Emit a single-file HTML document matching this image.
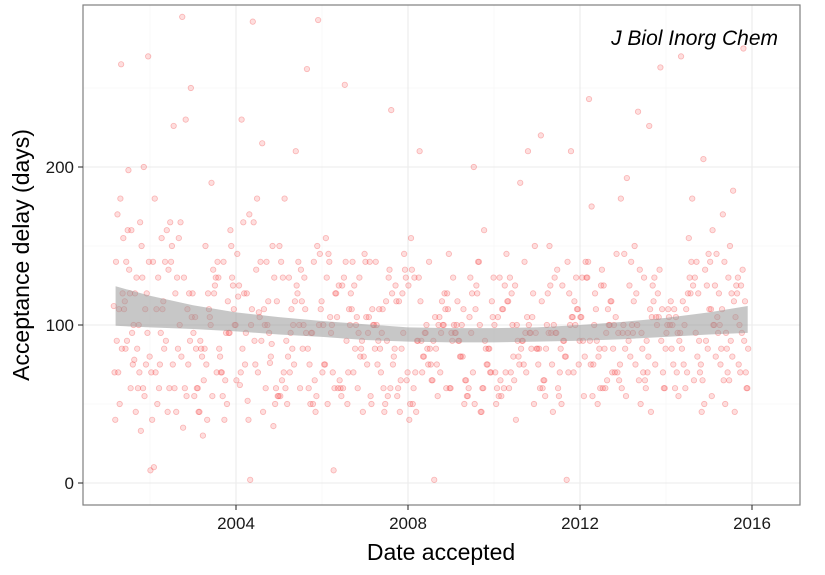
<!DOCTYPE html>
<html><head><meta charset="utf-8"><style>
body{margin:0;background:#fff;font-family:"Liberation Sans",sans-serif;}
svg text{font-family:"Liberation Sans",sans-serif;}
</style></head><body>
<svg id="chart" width="825" height="570">
<rect width="825" height="570" fill="#fff"/>
<g id="grid"></g>
<g id="points"></g>
<g id="band"></g>
<rect x="83" y="5" width="717" height="500" fill="none" stroke="#7f7f7f" stroke-width="1.2"/>
<g id="axes"></g>
<text x="778" y="45" text-anchor="end" font-size="21" font-style="italic" fill="#000">J Biol Inorg Chem</text>
<text x="441" y="560" text-anchor="middle" font-size="23" fill="#000">Date accepted</text>
<text transform="translate(29,255) rotate(-90)" text-anchor="middle" font-size="23" fill="#000">Acceptance delay (days)</text>
</svg>
<script>
const xTicks=[2004,2008,2012,2016];
const yTicks=[0,100,200];
const xMinor=[2002,2006,2010,2014];
const yMinor=[50,150,250];
const startYears=[2001.15,2002,2003,2004,2005,2006,2007,2008,2009,2010,2011,2012,2013,2014,2015];
const yearSpans=[0.85,1,1,1,1,1,1,1,1,1,1,1,1,1,0.92];
const delaysByYear=[
[112,33,160,85,140,70,120,180,95,60,198,110,75,130,90,170,55,120,85,140,60,100,110,70,150,95,120,80,165,60,265,270,100,135,50,120,85,160,70,110,45,140,90,200,78,115,40,130,75,155],
[8,295,140,75,105,165,60,130,90,155,45,110,75,130,90,180,55,120,85,140,60,226,110,70,35,150,95,120,80,165,60,250,100,135,50,120,85,160,70,110,45,140,10,230,60,115,40,130,75,155],
[95,65,120,30,100,140,55,85,125,70,100,45,150,80,110,60,95,130,40,85,115,70,150,55,95,125,65,100,40,135,80,110,55,190,90,130,70,105,45,160,85,120,60,95,140,75,105,50,130,85],
[65,115,180,95,55,140,75,120,60,100,165,85,130,45,110,70,150,90,2,125,80,105,40,145,95,70,120,55,100,135,75,115,60,90,165,50,110,292,230,36,215,100,62,88,140,170,118,76,108,52],
[150,95,60,130,110,75,140,50,100,85,125,60,150,95,115,70,45,130,100,65,140,85,110,55,95,135,70,115,50,100,80,145,60,120,90,293,262,210,180,55,110,75,130,65,100,85,140,50,115,95],
[70,125,60,100,80,140,55,105,90,120,65,145,80,110,60,130,95,50,120,75,105,140,60,100,85,130,70,145,70,125,95,45,110,60,140,85,100,125,50,130,70,105,155,60,90,120,75,100,252,8],
[140,55,115,85,65,125,45,100,135,80,110,50,95,120,70,140,85,60,110,95,45,130,75,105,60,90,140,70,115,50,100,130,85,60,110,145,75,95,55,120,236,85,105,65,135,90,75,115,55,100],
[125,70,140,90,60,100,85,45,110,75,95,130,60,105,80,50,120,90,70,155,100,65,115,40,95,85,130,60,105,75,90,145,55,100,70,120,85,95,60,110,2,80,135,100,65,90,50,115,75,210],
[95,60,120,80,105,45,130,90,70,100,60,115,85,140,55,95,75,125,65,100,85,50,110,90,160,70,100,130,60,95,80,115,45,105,90,70,140,55,100,85,120,65,95,75,110,50,130,90,200,80],
[100,70,125,60,95,140,80,110,50,90,120,65,105,85,130,55,95,75,115,60,100,90,145,70,105,40,125,85,95,65,110,150,75,100,55,120,90,70,130,85,190,60,105,95,80,115,50,210,100,70],
[85,120,60,100,75,140,95,55,110,80,130,65,100,90,45,115,70,125,95,60,105,85,150,75,100,55,120,90,70,135,85,110,2,95,65,130,80,100,60,115,90,75,220,105,50,125,85,210,70,95],
[105,70,125,90,60,115,85,140,75,100,50,130,95,65,110,80,145,60,100,90,70,125,55,105,85,135,75,95,115,60,243,180,100,80,130,65,110,90,140,70,95,120,55,105,85,75,130,100,60,175],
[100,75,130,95,60,115,85,140,70,105,50,125,90,110,65,95,135,80,100,55,120,90,75,145,105,65,115,85,130,70,100,60,125,95,80,110,45,135,90,263,226,235,193,105,70,120,85,100,60,150],
[95,120,70,105,85,140,60,110,90,130,75,100,50,125,85,115,65,140,95,105,75,130,55,100,90,120,70,145,80,110,60,125,95,100,75,135,65,115,85,205,180,270,100,45,120,90,110,70,155,95],
[110,75,130,95,60,120,85,145,70,105,50,125,90,115,65,100,135,80,110,55,125,90,75,140,100,65,120,85,130,70,105,60,125,95,80,115,45,140,100,275,185,170,160,95,120,85,110,70,150,100]];
const bandYears=[2001.2,2002,2003,2004,2005,2006,2007,2008,2009,2010,2011,2012,2013,2014,2015,2015.9];
const bandCenter=[112,108.5,105,102,99.5,97.5,95.5,94,93.5,93.5,94,95,96.5,98.5,101,103.5];
const bandHalf=[12.5,10,7.5,6,5.5,5,5,4.5,4.5,4.5,4.5,5,5.5,6,7,8.5];
const X=v=>236+(v-2004)*43, Y=v=>483-v*1.58;
const NS='http://www.w3.org/2000/svg';
function mk(tag,attrs,parent){const e=document.createElementNS(NS,tag);for(const k in attrs)e.setAttribute(k,attrs[k]);parent.appendChild(e);return e;}
const grid=document.getElementById('grid'),axes=document.getElementById('axes'),pts=document.getElementById('points'),band=document.getElementById('band');
xMinor.forEach(t=>{const l=mk('line',{x1:X(t),x2:X(t),y1:5,y2:505,stroke:'#f4f4f4','stroke-width':0.6},grid);

});
yMinor.forEach(t=>{const l=mk('line',{x1:83,x2:800,y1:Y(t),y2:Y(t),stroke:'#f4f4f4','stroke-width':0.6},grid);

});
xTicks.forEach(t=>{const l=mk('line',{x1:X(t),x2:X(t),y1:5,y2:505,stroke:'#ebebeb','stroke-width':1.1},grid);


const tk=mk('line',{x1:X(t),x2:X(t),y1:505,y2:510,stroke:'#333','stroke-width':1.1},axes);


const tx=mk('text',{x:X(t),y:529,'text-anchor':'middle','font-size':17,fill:'#1a1a1a'},axes);tx.textContent=t;

});
yTicks.forEach(t=>{const l=mk('line',{x1:83,x2:800,y1:Y(t),y2:Y(t),stroke:'#ebebeb','stroke-width':1.1},grid);


const tk=mk('line',{x1:78,x2:83,y1:Y(t),y2:Y(t),stroke:'#333','stroke-width':1.1},axes);


const tx=mk('text',{x:74,y:Y(t)+6,'text-anchor':'end','font-size':17,fill:'#1a1a1a'},axes);tx.textContent=t;

});
delaysByYear.forEach((arr,yi)=>{arr.forEach((v,i)=>{
const d=startYears[yi]+yearSpans[yi]*((i*37)%arr.length+0.5)/arr.length;
const c=mk('circle',{cx:X(d),cy:Y(v),r:2.7,fill:'rgba(248,90,90,0.2)',stroke:'rgba(240,70,70,0.35)','stroke-width':0.8},pts);

});});
let up=[],lo=[];
bandYears.forEach((d,i)=>{up.push(X(d)+','+Y(bandCenter[i]+bandHalf[i]));lo.unshift(X(d)+','+Y(bandCenter[i]-bandHalf[i]));});
const poly=mk('polygon',{points:up.concat(lo).join(' '),fill:'rgba(153,153,153,0.55)',stroke:'none'},band);


</script>
</body></html>
